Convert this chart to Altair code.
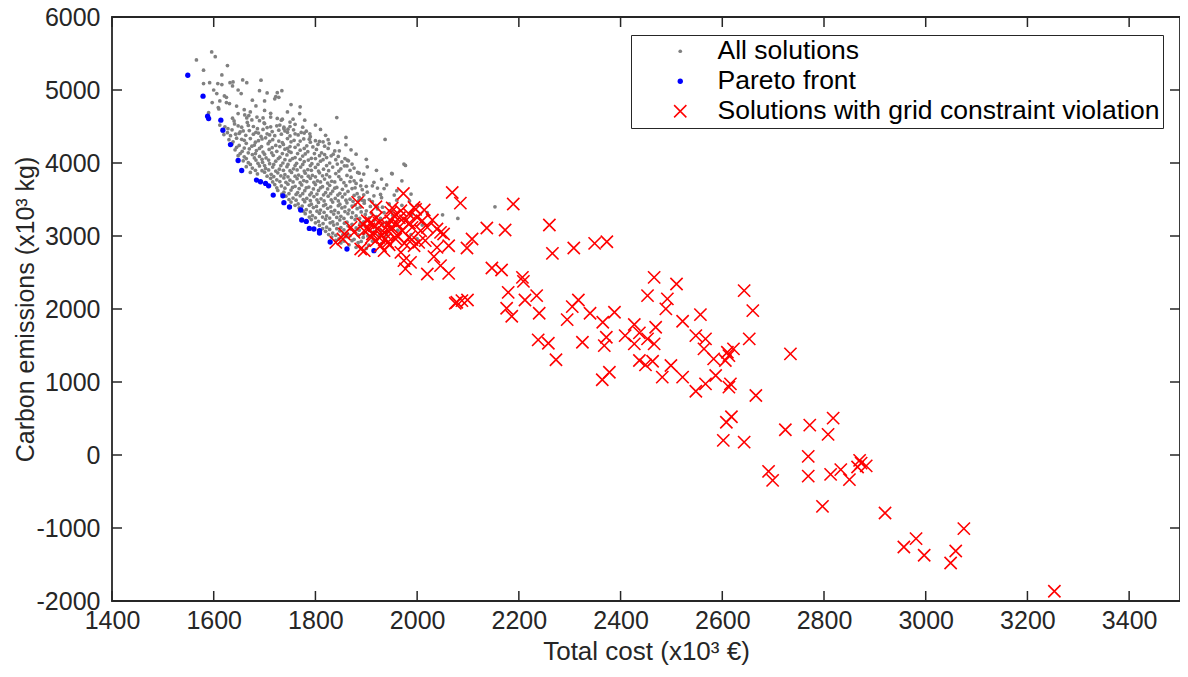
import altair as alt
import pandas as pd

SERIES = ["All solutions", "Pareto front", "Solutions with grid constraint violation"]

x_ticks = [1400, 1600, 1800, 2000, 2200, 2400, 2600, 2800, 3000, 3200, 3400]
y_ticks = [-2000, -1000, 0, 1000, 2000, 3000, 4000, 5000, 6000]

# All solutions (grey cloud) - (total cost, carbon emissions)
gray_points = [
    (1566,5412),(1596,5521),(1603,5457),(1627,5335),(1580,5271),(1616,5207),(1580,5088),(1592,5101),
    (1608,5088),(1616,5075),(1632,5101),(1638,5110),(1657,5138),(1665,5101),(1693,5134),(1637,5055),
    (1606,4951),(1621,4919),(1625,4900),(1654,4951),(1625,4828),(1631,4814),(1597,4828),(1609,4760),
    (1610,4740),(1676,4860),(1683,4782),(1648,4677),(1637,4614),(1640,4577),(1661,4659),(1665,4618),
    (1669,4650),(1672,4700),(1675,4590),(1666,4555),(1685,4630),(1690,4580),(1697,4618),(1699,4550),
    (1725,4964),(1722,4910),(1720,4880),(1728,4900),(1734,4990),(1725,4610),(1735,4600),(1730,4520),
    (1738,4490),(1590,4690),(1770,4769),(1769,4677),(1756,4600),(1779,4587),(1733,4587),(1746,4464),
    (1772,4418),(1789,4400),(1788,4327),(1808,4295),(1827,4267),(1844,4281),(1847,4167),(1831,4098),
    (1863,4039),(1857,3962),(1883,3870),(1902,3948),(1895,3848),(1876,3756),(1912,3688),(1922,3657),
    (1889,3688),(1950,3857),(1970,3756),(1974,3985),(1896,3483),(1922,3392),(1885,3483),
    (1842,4622),(1937,4322),(1977,3966),(1951,3852),(1988,3574),(2080,3241),(2153,3400),
    (1600,5000),(1612,4850),(1645,4780),(1660,4730),(1700,4720),(1712,4680),(1745,4700),(1752,4800),
    (1700,4850),(1690,4990),(1648,5000),(1705,4960),(1712,4630),(1750,4560),(1800,4520),(1810,4460),
    (1820,4380),(1860,4350),(1860,4250),(1880,4120),(1870,4180),(1900,4050),(1920,3900),(1930,3780),
    (1940,3700),(1960,3620),(1955,3560),(1985,3480),(2000,3420),(1970,3420),(2020,3320),(2050,3290),
    (1990,3300),(1978,3220),(2010,3150),(1962,3080),(1988,3020),(2000,2960),
    (1612,4520),(1628,4470),(1641,4535),(1655,4490),(1668,4515),(1686,4470),(1700,4540),(1712,4495),
    (1738,4470),(1760,4530),(1775,4490),
    (1622,4495),(1648,4510),(1678,4500),(1705,4485),(1724,4510),(1750,4500),
    (1618,4440),(1636,4455),(1652,4425),(1670,4445),(1683,4420),(1697,4460),(1715,4430),(1728,4450),
    (1745,4420),(1757,4455),(1782,4435),
    (1627,4415),(1643,4395),(1658,4440),(1688,4410),(1710,4385),(1740,4440),(1760,4400),(1778,4410),
    (1620,4390),(1633,4375),(1650,4405),(1663,4380),(1678,4395),(1693,4365),(1705,4400),(1720,4375),
    (1733,4395),(1750,4370),(1766,4385),(1790,4360),
    (1630,4320),(1645,4340),(1660,4310),(1672,4335),(1688,4305),(1702,4345),(1716,4320),(1728,4300),
    (1745,4335),(1758,4310),(1777,4330),(1800,4305),(1825,4320),
    (1638,4290),(1655,4325),(1682,4285),(1695,4330),(1710,4295),(1735,4280),(1752,4290),(1770,4300),
    (1790,4285),(1815,4290),
    (1636,4260),(1650,4240),(1664,4270),(1680,4245),(1694,4225),(1707,4265),(1722,4240),(1737,4255),
    (1750,4225),(1766,4250),(1783,4235),(1805,4255),(1818,4230),
    (1645,4215),(1660,4205),(1675,4230),(1690,4200),(1715,4210),(1730,4225),(1745,4200),(1760,4215),
    (1778,4200),(1795,4220),(1825,4200),
    (1642,4180),(1656,4160),(1670,4195),(1684,4170),(1697,4150),(1709,4185),(1724,4160),(1740,4190),
    (1752,4145),(1770,4175),(1785,4155),(1802,4185),(1812,4140),(1838,4165),
    (1652,4130),(1668,4140),(1682,4130),(1700,4120),(1714,4140),(1735,4130),(1748,4160),(1765,4130),
    (1780,4125),(1798,4130),(1818,4115),(1835,4120),
    (1648,4100),(1660,4085),(1676,4115),(1690,4090),(1703,4070),(1717,4105),(1730,4080),(1744,4110),
    (1760,4075),(1775,4095),(1792,4065),(1808,4100),(1822,4075),(1845,4090),(1858,4060),
    (1664,4060),(1680,4070),(1695,4050),(1708,4040),(1727,4060),(1740,4045),(1755,4060),(1770,4050),
    (1786,4040),(1800,4060),(1815,4045),(1840,4045),(1865,4030),
    (1658,4030),(1668,4005),(1683,4040),(1696,4010),(1710,3990),(1722,4025),(1736,4000),(1750,4035),
    (1763,3995),(1778,4020),(1793,3990),(1810,4025),(1828,4000),(1852,4015),(1872,3985),
    (1672,3980),(1687,3995),(1700,3965),(1718,3980),(1732,3965),(1746,3980),(1760,3965),(1775,3980),
    (1790,3965),(1805,3980),(1822,3965),(1843,3985),(1862,3960),
    (1664,3950),(1676,3930),(1690,3960),(1702,3925),(1716,3945),(1729,3915),(1744,3950),(1757,3920),
    (1771,3945),(1785,3910),(1800,3940),(1816,3915),(1834,3945),(1850,3920),(1876,3930),
    (1682,3900),(1695,3895),(1708,3905),(1722,3890),(1737,3900),(1750,3895),(1764,3905),(1778,3890),
    (1792,3900),(1806,3890),(1826,3895),(1846,3890),(1868,3900),
    (1672,3870),(1686,3850),(1700,3875),(1713,3845),(1726,3865),(1740,3840),(1753,3870),(1767,3835),
    (1780,3860),(1794,3830),(1808,3865),(1822,3840),(1840,3855),(1862,3830),(1886,3860),
    (1705,3820),(1718,3815),(1732,3825),(1746,3810),(1760,3820),(1773,3810),(1786,3820),(1800,3810),
    (1814,3825),(1828,3810),(1846,3815),(1870,3805),
    (1712,3790),(1724,3770),(1738,3795),(1750,3765),(1764,3785),(1777,3760),(1790,3790),(1804,3755),
    (1818,3780),(1832,3750),(1850,3775),(1868,3745),(1890,3765),(1915,3735),
    (1716,3740),(1730,3745),(1742,3735),(1756,3740),(1770,3730),(1783,3745),(1797,3735),(1810,3740),
    (1824,3725),(1838,3740),(1856,3730),(1880,3720),
    (1720,3705),(1733,3685),(1746,3710),(1760,3680),(1773,3700),(1787,3670),(1800,3705),(1814,3675),
    (1828,3695),(1842,3665),(1860,3690),(1878,3660),(1900,3680),(1935,3650),
    (1724,3660),(1740,3655),(1755,3665),(1768,3650),(1782,3660),(1796,3645),(1810,3660),(1824,3645),
    (1838,3655),(1853,3640),(1872,3650),(1892,3635),
    (1726,3625),(1738,3600),(1752,3630),(1765,3595),(1779,3620),(1792,3590),(1806,3625),(1820,3595),
    (1834,3615),(1848,3585),(1864,3610),(1882,3580),(1902,3600),(1928,3570),
    (1734,3575),(1748,3580),(1762,3570),(1775,3580),(1789,3565),(1803,3575),(1816,3565),(1830,3580),
    (1844,3560),(1858,3575),(1876,3555),(1895,3565),(1915,3550),
    (1742,3545),(1756,3520),(1770,3550),(1783,3515),(1797,3540),(1811,3510),(1825,3545),(1839,3515),
    (1853,3535),(1868,3505),(1886,3530),(1906,3500),(1930,3525),(1960,3490),
    (1748,3500),(1762,3490),(1776,3500),(1790,3485),(1803,3495),(1817,3480),(1831,3495),(1845,3480),
    (1860,3490),(1874,3475),(1892,3490),(1912,3470),
    (1752,3465),(1766,3440),(1779,3470),(1792,3435),(1806,3460),(1820,3430),(1834,3465),(1848,3435),
    (1862,3455),(1878,3425),(1896,3450),(1918,3420),(1945,3440),
    (1760,3420),(1774,3410),(1788,3420),(1802,3405),(1816,3415),(1830,3400),(1845,3415),(1858,3400),
    (1872,3410),(1888,3395),(1908,3405),(1932,3395),
    (1768,3385),(1782,3360),(1796,3390),(1810,3355),(1824,3380),(1838,3350),(1852,3385),(1866,3355),
    (1882,3375),(1900,3345),(1922,3370),(1950,3340),
    (1776,3340),(1790,3330),(1803,3340),(1817,3325),(1831,3335),(1845,3320),(1858,3335),(1873,3320),
    (1890,3330),(1910,3315),(1935,3320),
    (1780,3305),(1794,3280),(1808,3310),(1822,3275),(1836,3300),(1850,3270),(1864,3305),(1880,3275),
    (1898,3295),(1920,3265),(1952,3285),
    (1788,3260),(1800,3250),(1814,3260),(1828,3245),(1842,3255),(1856,3240),(1871,3255),(1887,3240),
    (1906,3250),(1928,3240),
    (1792,3225),(1806,3200),(1820,3230),(1834,3195),(1848,3220),(1862,3190),(1878,3225),(1895,3195),
    (1915,3215),(1940,3185),
    (1800,3180),(1815,3170),(1829,3180),(1843,3165),(1857,3175),(1872,3160),(1888,3170),(1908,3160),
    (1932,3165),
    (1808,3145),(1822,3120),(1836,3150),(1850,3115),(1864,3140),(1880,3110),(1898,3135),(1920,3105),
    (1948,3130),
    (1814,3100),(1828,3090),(1842,3100),(1856,3085),(1870,3095),(1886,3080),(1905,3090),(1928,3080),
    (1820,3065),(1834,3040),(1848,3070),(1862,3035),(1877,3060),(1895,3030),(1915,3055),(1940,3025),
    (1826,3020),(1840,3010),(1854,3020),(1868,3005),(1884,3015),(1903,3000),(1925,3010),
    (1832,2985),(1846,2960),(1860,2990),(1876,2955),(1894,2980),(1915,2950),(1938,2975),
    (1840,2940),(1856,2930),(1872,2935),(1890,2925),(1912,2930),
    (1850,2905),(1866,2880),(1884,2910),(1905,2875),(1930,2895),
    (1880,2845),(1900,2830),
]

# Pareto front (blue)
pareto_points = [
    (1549,5202),(1579,4915),(1588,4642),(1590,4609),(1614,4587),(1618,4450),(1633,4253),(1648,4034),
    (1655,3897),(1684,3766),(1692,3743),(1702,3720),(1708,3688),(1717,3561),(1736,3551),(1738,3456),
    (1749,3397),(1771,3356),(1773,3219),(1782,3200),(1788,3104),(1797,3096),(1808,3072),(1808,3041),
    (1829,2918),(1862,2822),(1915,2799),
]

# Solutions with grid constraint violation (red crosses)
violation_points = [
    (1840,2912),(1857,3027),(1854,2959),(1870,3118),(1876,3049),(1883,3460),(1889,2822),(1896,2799),
    (1893,3164),(1896,3072),(1902,3209),(1909,3186),(1916,3141),(1919,3401),(1922,3096),(1912,3027),
    (1925,2981),(1935,3049),(1942,3141),(1948,3209),(1955,3278),(1948,3323),(1951,3383),(1961,3164),
    (1971,3072),(1958,2959),(1942,2913),(1928,2867),(1919,2936),(1935,2799),(1968,3346),(1973,3583),
    (1977,3209),(1984,3301),(1994,3391),(1997,3365),(2000,3254),(2010,3209),(2014,3356),(2030,3219),
    (1990,3118),(2007,3072),(2020,3118),(1984,2981),(2003,2913),(2016,2936),(2039,3096),(2046,3049),
    (2052,3027),(2062,2867),(2039,2844),(2033,2717),(1968,2776),(1974,2662),(1987,2639),(1977,2549),
    (2020,2480),(2046,2594),(2062,2488),(1994,2867),(2069,3596),(2085,3451),(2108,2959),(2098,2836),
    (2137,3109),(2173,3082),(2189,3438),(2260,3150),(2266,2762),(2308,2836),(2349,2899),(2373,2922),
    (1930,3000),(1945,3060),(1960,3010),(1925,3180),(1938,2960),(1950,3120),(1965,3250),(1975,2900),
    (1910,2980),(1905,3100),(1985,3180),(1920,3250),(1990,2950),(1945,2880),
    (2147,2562),(2166,2535),(2207,2434),(2209,2379),(2179,2228),(2235,2183),(2212,2124),(2176,2010),
    (2186,1900),(2240,1941),(2078,2092),(2088,2115),(2099,2124),(2075,2078),(2238,1577),(2258,1531),
    (2273,1304),(2325,1544),(2295,1855),(2317,2124),(2305,2033),(2340,1941),(2365,1818),(2388,1955),
    (2372,1613),(2368,1499),(2364,1030),(2378,1134),(2409,1636),(2427,1787),(2437,1673),(2427,1523),
    (2453,1591),(2466,1523),(2469,1750),(2437,1294),(2449,1235),(2463,1285),(2466,2434),(2453,2183),
    (2492,2138),(2489,2001),(2510,2343),(2522,1832),(2557,1923),(2548,1636),(2567,1591),(2564,1454),
    (2583,1317),(2610,1408),(2613,1362),(2622,1454),(2606,1294),(2499,1226),(2482,1066),(2522,1066),
    (2548,874),(2567,975),(2587,1089),(2616,975),(2613,929),(2643,2252),(2660,1978),(2653,1591),
    (2734,1386),(2666,815),(2618,524),(2608,449),(2602,200),(2643,177),(2724,346),(2772,409),
    (2808,282),(2818,505),(2769,-19),(2769,-290),(2691,-224),(2699,-348),(2813,-265),(2833,-201),
    (2850,-338),(2870,-74),(2866,-165),(2883,-149),(2873,-111),(2797,-703),(2920,-795),(2957,-1260),
    (2981,-1145),(2997,-1374),(3075,-1008),(3059,-1315),(3049,-1479),(3253,-1866),
]

rows = []
for name, pts in zip(SERIES, [gray_points, pareto_points, violation_points]):
    for cx, cy in pts:
        rows.append({"cost": cx, "emis": cy, "series": name})
df = pd.DataFrame(rows)

FONT = "Liberation Sans"
AX = "#262626"
W, H = 1068, 584
TL = 10
X_PATH = "M-1,-1L1,1M-1,1L1,-1"

x_scale = alt.Scale(domain=[1400, 3500], nice=False, zero=False)
y_scale = alt.Scale(domain=[-2000, 6000], nice=False, zero=False)
x_axis = alt.Axis(title="Total cost (x10³ €)", values=x_ticks, labelExpr="'' + datum.value")
y_axis = alt.Axis(title="Carbon emissions (x10³ kg)", values=y_ticks, labelExpr="'' + datum.value",
                  titleX=-87, titleBaseline="middle")

legend = alt.Legend(
    title=None, orient="none", legendX=519, legendY=18,
    strokeColor=AX, fillColor="white", padding=3,
    labelFont=FONT, labelFontSize=26.5, labelColor="black", labelLimit=800,
    labelOffset=24, symbolOffset=33, rowPadding=3,
)

points = alt.Chart(df).mark_point(opacity=1, strokeWidth=1.6).encode(
    x=alt.X("cost:Q", scale=x_scale, axis=x_axis),
    y=alt.Y("emis:Q", scale=y_scale, axis=y_axis),
    shape=alt.Shape("series:N", scale=alt.Scale(domain=SERIES, range=["circle", "circle", X_PATH]), legend=legend),
    fill=alt.Fill("series:N", scale=alt.Scale(domain=SERIES, range=["#808080", "#0000ff", "rgba(0,0,0,0)"]), legend=legend),
    stroke=alt.Stroke("series:N", scale=alt.Scale(domain=SERIES, range=["rgba(0,0,0,0)", "rgba(0,0,0,0)", "#ff0000"]), legend=legend),
    size=alt.Size("series:N", scale=alt.Scale(type="ordinal", domain=SERIES, range=[14, 28, 150]), legend=legend),
)

tick_x_df = pd.DataFrame({"cost": x_ticks})
tick_y_df = pd.DataFrame({"emis": y_ticks})

bottom_ticks = alt.Chart(tick_x_df).mark_rule(color=AX, strokeWidth=1.5).encode(
    x=alt.X("cost:Q", scale=x_scale, axis=x_axis), y=alt.value(H), y2=alt.value(H - TL))
top_ticks = alt.Chart(tick_x_df).mark_rule(color=AX, strokeWidth=1.5).encode(
    x=alt.X("cost:Q", scale=x_scale, axis=x_axis), y=alt.value(0), y2=alt.value(TL))
left_ticks = alt.Chart(tick_y_df).mark_rule(color=AX, strokeWidth=1.5).encode(
    y=alt.Y("emis:Q", scale=y_scale, axis=y_axis), x=alt.value(0), x2=alt.value(TL))
right_ticks = alt.Chart(tick_y_df).mark_rule(color=AX, strokeWidth=1.5).encode(
    y=alt.Y("emis:Q", scale=y_scale, axis=y_axis), x=alt.value(W), x2=alt.value(W - TL))

chart = alt.layer(points, bottom_ticks, top_ticks, left_ticks, right_ticks).properties(
    width=W, height=H,
    padding={"left": 104, "top": 9, "right": 0, "bottom": 64},
    autosize=alt.AutoSizeParams(type="none"),
    background="white",
).configure_view(
    stroke=AX, strokeWidth=1.8,
).configure_axis(
    domain=False, ticks=False, tickSize=0, grid=False, labelFlush=False,
    labelFont=FONT, labelFontSize=25, labelColor=AX,
    titleFont=FONT, titleColor=AX, titleFontWeight="normal",
).configure_axisX(
    labelPadding=7, titleFontSize=26, titlePadding=5,
).configure_axisY(
    labelPadding=12, titleFontSize=25,
)

chart.save("out.html", embed_options={"renderer": "svg", "actions": False})
